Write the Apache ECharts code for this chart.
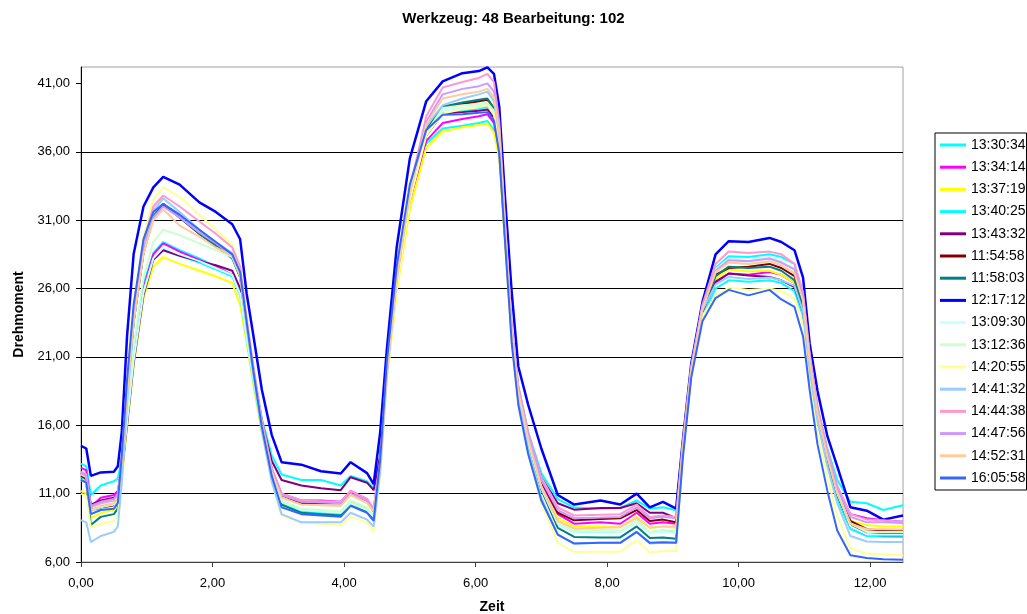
<!DOCTYPE html>
<html>
<head>
<meta charset="utf-8">
<script src="https://cdn.jsdelivr.net/npm/echarts@6/dist/echarts.min.js"></script>
<style>
html,body{margin:0;padding:0;background:#fff;}
#chart{width:1027px;height:614px;}
</style>
</head>
<body>
<div id="chart"></div>
<script>
// Zeit (x) sample positions
const zeit = [0.00,0.08,0.15,0.30,0.50,0.56,0.62,0.70,0.80,0.95,1.10,1.25,1.50,1.80,2.05,2.30,2.42,2.52,2.62,2.75,2.90,3.05,3.35,3.65,3.95,4.10,4.35,4.45,4.55,4.65,4.80,5.00,5.25,5.50,5.80,6.05,6.18,6.28,6.36,6.45,6.55,6.65,6.80,7.00,7.25,7.50,7.90,8.20,8.45,8.65,8.85,9.05,9.15,9.28,9.45,9.65,9.85,10.15,10.47,10.65,10.85,10.98,11.08,11.20,11.35,11.50,11.70,11.95,12.20,12.50];

const s_133034 = [13.2,13.0,10.9,11.6,11.9,12.1,13.5,17.0,21.5,26.3,28.6,29.4,28.8,28.2,27.6,27.0,25.8,22.8,19.8,16.5,13.8,12.4,12.0,12.0,11.6,12.3,11.9,11.4,13.8,20.0,26.5,32.5,36.6,37.7,37.9,38.1,38.25,37.6,35.8,29.5,22.8,18.8,15.5,12.5,10.6,9.98,9.9,9.95,10.5,9.9,10.0,9.78,14.6,20.0,24.5,27.5,28.36,28.3,28.5,28.3,27.8,25.5,21.0,17.2,14.3,12.0,10.4,10.3,9.8,10.15];
const s_133414 = [12.9,12.7,10.0,10.7,10.9,11.2,12.8,16.3,21.0,26.0,28.5,29.3,28.7,28.1,27.6,27.0,25.7,22.5,19.5,16.0,12.8,11.0,10.5,10.5,10.4,11.2,10.6,9.8,13.3,19.8,26.3,32.3,36.8,38.1,38.4,38.6,38.75,38.1,36.0,29.6,22.6,18.4,15.0,11.8,9.5,8.8,8.9,8.8,9.6,8.8,8.9,8.8,14.3,19.8,24.3,26.4,27.1,27.0,27.2,27.0,26.4,24.6,20.5,16.8,13.8,11.4,9.5,9.2,9.05,8.95];
const s_133719 = [11.2,11.0,9.2,9.6,9.8,10.1,12.0,15.8,20.3,25.3,27.6,28.3,27.8,27.3,26.9,26.4,24.8,22.0,19.0,15.5,12.2,10.3,9.8,9.7,9.6,10.4,9.9,9.3,12.8,19.3,25.8,31.8,36.3,37.5,37.8,37.95,38.07,37.4,35.5,29.2,22.2,18.0,14.6,11.4,9.2,8.6,8.6,8.55,9.3,8.5,8.6,8.5,14.2,19.8,24.3,26.7,27.4,27.25,27.3,27.0,26.4,24.5,20.4,16.7,13.6,11.1,9.0,8.7,8.6,8.6];
const s_134025 = [12.2,12.0,9.8,9.9,10.1,10.4,12.6,16.3,20.8,25.8,28.2,28.9,28.4,27.9,27.4,26.9,25.5,22.3,19.3,15.7,12.4,10.2,9.7,9.6,9.5,10.3,9.8,9.2,12.9,19.6,26.4,32.6,37.2,38.8,39.0,39.15,39.3,38.7,36.4,29.8,22.7,18.3,14.8,11.3,8.8,8.2,8.25,8.2,9.0,8.15,8.3,8.2,14.0,19.8,24.0,26.0,26.6,26.5,26.6,26.4,25.8,24.0,20.0,16.4,13.2,10.6,8.4,7.9,7.85,7.83];
const s_134332 = [12.5,12.3,10.2,10.5,10.7,11.0,12.5,16.0,20.5,25.5,28.1,28.8,28.4,28.0,27.7,27.3,26.0,22.8,19.8,16.3,13.4,12.0,11.6,11.4,11.25,12.2,11.8,11.25,13.8,20.0,26.6,32.8,37.2,38.8,38.9,39.0,39.1,38.5,36.3,29.7,22.8,18.6,15.3,12.2,10.3,9.83,9.95,9.95,10.3,9.6,9.6,9.2,14.3,19.9,24.3,26.5,27.1,26.95,26.85,26.6,26.1,24.3,20.4,16.8,13.6,11.0,8.6,8.0,7.95,7.95];
const s_115458 = [12.3,12.1,9.8,10.0,10.1,10.5,13.3,18.2,23.6,28.6,31.2,32.1,31.2,30.0,29.2,28.3,26.9,23.3,20.1,16.2,12.8,10.9,10.3,10.3,10.3,11.0,10.5,9.7,13.2,19.8,26.6,32.8,37.5,39.3,39.5,39.7,39.8,39.1,36.8,30.0,22.9,18.6,15.2,11.9,9.6,9.05,9.15,9.2,9.8,9.0,9.1,8.9,14.4,20.1,24.6,27.0,27.5,27.6,27.8,27.5,26.9,25.0,20.8,17.0,13.9,11.3,9.0,8.4,8.3,8.3];
const s_115803 = [12.0,11.8,8.7,9.3,9.5,9.9,13.0,18.0,23.5,28.6,31.3,32.2,31.2,30.0,29.1,28.2,26.8,23.1,19.8,15.9,12.4,10.2,9.6,9.5,9.4,10.2,9.7,9.2,12.9,19.7,26.5,32.8,37.6,39.3,39.6,39.8,39.9,39.2,36.9,30.0,22.7,18.3,14.8,11.3,8.5,7.83,7.8,7.8,8.6,7.75,7.8,7.7,13.9,19.7,24.4,26.9,27.6,27.5,27.6,27.3,26.6,24.7,20.5,16.7,13.5,10.9,8.7,8.2,8.1,8.1];
const s_121712 = [14.5,14.3,12.3,12.55,12.6,13.0,15.5,22.5,28.5,32.0,33.4,34.17,33.6,32.3,31.6,30.7,29.6,25.6,22.6,18.6,15.3,13.3,13.12,12.64,12.47,13.3,12.5,11.7,15.5,21.5,29.0,35.5,39.7,41.15,41.75,41.9,42.17,41.7,39.3,32.5,25.7,20.3,17.5,14.3,10.9,10.2,10.5,10.2,11.0,10.0,10.4,9.9,14.8,20.5,25.0,28.5,29.46,29.4,29.7,29.4,28.8,26.8,22.0,18.5,15.2,13.0,10.0,9.75,9.1,9.4];
const s_130930 = [12.0,11.8,9.5,9.8,10.0,10.3,12.5,16.2,20.7,25.7,28.2,29.0,28.5,28.0,27.5,27.0,25.6,22.4,19.4,15.8,12.5,10.4,9.8,9.7,9.6,10.3,9.8,9.3,12.9,19.6,26.4,32.6,37.3,39.0,39.2,39.35,39.5,38.9,36.6,29.9,22.7,18.3,14.8,11.4,8.8,8.2,8.25,8.2,8.9,8.1,8.2,8.1,14.1,20.0,24.6,27.4,28.2,28.1,28.3,28.0,27.4,25.4,21.0,17.1,13.9,11.1,8.6,8.0,8.0,8.0];
const s_131236 = [12.4,12.2,9.8,10.0,10.2,10.5,12.9,16.9,21.7,26.8,29.4,30.3,29.9,29.3,28.8,28.3,26.9,23.2,20.0,16.0,12.7,10.5,9.9,9.8,9.7,10.5,10.0,9.4,13.0,19.7,26.5,32.7,37.4,39.2,39.4,39.5,39.6,39.0,36.7,29.9,22.7,18.4,14.9,11.5,8.9,8.3,8.35,8.3,9.0,8.2,8.3,8.2,14.1,20.0,24.6,27.2,27.9,27.8,28.0,27.7,27.2,25.2,20.9,17.0,13.8,11.2,8.8,8.2,8.2,8.2];
const s_142055 = [11.0,10.8,8.5,8.8,9.0,9.4,13.0,18.6,24.5,29.8,32.5,33.4,32.7,31.4,30.3,29.2,27.6,23.6,20.0,15.8,11.8,9.4,8.9,8.8,8.7,9.3,8.9,8.2,12.2,19.0,26.0,32.4,37.2,38.8,39.1,39.25,39.4,38.7,36.4,29.6,22.1,17.6,13.9,10.3,7.4,6.73,6.75,6.75,7.6,6.7,6.8,6.8,13.6,19.6,24.0,25.5,26.07,25.9,26.0,25.8,25.3,23.3,19.2,15.4,12.2,9.4,7.0,6.6,6.55,6.49];
const s_144132 = [9.05,8.9,7.46,7.9,8.2,8.6,11.8,17.6,23.5,28.9,31.7,32.6,31.6,30.3,29.4,28.6,27.1,23.2,19.7,15.6,11.9,9.5,8.9,8.9,8.9,9.6,9.1,8.6,12.6,19.5,26.6,33.0,37.9,39.4,39.9,40.2,40.4,39.7,37.3,30.3,22.6,17.9,14.2,10.7,8.0,7.35,7.4,7.4,8.2,7.35,7.4,7.4,13.9,19.8,24.4,26.3,26.85,26.7,26.8,26.6,26.2,24.3,20.1,16.3,13.0,10.3,7.9,7.5,7.46,7.46];
const s_144438 = [12.6,12.4,10.0,10.3,10.5,10.9,13.8,18.9,24.4,29.4,32.0,32.8,32.0,30.9,30.0,29.0,27.6,23.8,20.4,16.4,12.9,11.0,10.5,10.45,10.4,11.2,10.6,9.9,13.4,20.0,26.9,33.3,38.6,40.7,41.1,41.4,41.7,41.1,38.2,30.8,23.3,18.9,15.5,12.2,10.0,9.4,9.45,9.5,10.2,9.3,9.4,9.3,14.6,20.3,24.8,27.8,28.7,28.6,28.7,28.5,27.8,25.7,21.3,17.4,14.2,11.6,9.5,9.1,9.05,8.93];
const s_144756 = [12.5,12.3,10.1,10.4,10.6,11.0,13.6,18.5,23.8,28.7,31.2,32.0,31.2,30.1,29.3,28.4,27.0,23.4,20.1,16.2,12.8,10.9,10.4,10.35,10.3,11.0,10.5,9.8,13.3,19.9,26.8,33.1,38.2,40.2,40.6,40.8,41.0,40.4,37.8,30.5,23.1,18.8,15.4,12.0,9.8,9.2,9.25,9.3,10.0,9.2,9.3,9.2,14.5,20.2,24.7,27.3,28.07,28.0,28.2,27.9,27.4,25.4,21.1,17.2,14.0,11.4,9.3,8.9,8.9,8.85];
const s_145231 = [12.0,11.8,9.7,10.1,10.3,10.7,13.4,18.3,23.6,28.5,31.0,31.8,30.6,29.8,29.0,28.4,26.9,23.3,20.0,16.1,12.6,10.7,10.2,10.15,10.1,10.9,10.3,9.7,13.2,19.8,26.7,33.0,38.0,39.9,40.2,40.4,40.6,40.0,37.5,30.3,22.9,18.5,15.0,11.5,9.0,8.44,8.5,8.55,9.2,8.5,8.6,8.6,14.2,20.0,24.5,27.2,27.9,27.8,28.0,27.7,27.1,25.1,20.8,16.9,13.7,11.0,8.8,8.4,8.4,8.37];
const s_160558 = [12.0,11.8,9.5,9.8,9.9,10.3,13.8,19.3,24.8,29.6,31.6,32.2,31.4,30.3,29.4,28.5,27.2,23.5,20.0,15.9,12.3,10.0,9.5,9.4,9.3,10.1,9.6,9.0,13.5,20.6,27.6,33.6,37.6,38.7,38.75,38.85,38.9,38.3,35.9,29.3,22.0,17.5,13.9,10.5,8.0,7.35,7.4,7.4,8.2,7.4,7.45,7.4,13.5,19.5,23.6,25.3,25.9,25.5,25.9,25.2,24.65,22.5,18.6,14.6,11.2,8.3,6.5,6.3,6.2,6.17];

const seriesNames = ['13:30:34','13:34:14','13:37:19','13:40:25','13:43:32','11:54:58','11:58:03','12:17:12','13:09:30','13:12:36','14:20:55','14:41:32','14:44:38','14:47:56','14:52:31','16:05:58'];
const seriesValues = [s_133034,s_133414,s_133719,s_134025,s_134332,s_115458,s_115803,s_121712,s_130930,s_131236,s_142055,s_144132,s_144438,s_144756,s_145231,s_160558];
const seriesColors = ['#00FFFF','#FF00FF','#FFFF00','#00FFFF','#800080','#800000','#008080','#0000FF','#CCFFFF','#CCFFCC','#FFFF99','#99CCFF','#FF99CC','#CC99FF','#FFCC99','#3366FF'];

const xTicks = [0,2,4,6,8,10,12];
const yTicks = [6,11,16,21,26,31,36,41];

const fmt = v => v.toFixed(2).replace('.', ',');
const FONT = 'Liberation Sans, Arial, sans-serif';

const chart = echarts.init(document.getElementById('chart'), null, {renderer: 'canvas'});

const series = seriesNames.map((name, i) => ({
  name: name,
  type: 'line',
  data: zeit.map((x, k) => [x, seriesValues[i][k]]),
  symbol: 'none',
  smooth: false,
  lineStyle: {color: seriesColors[i], width: name === '12:17:12' ? 2.5 : 2},
  itemStyle: {color: seriesColors[i]},
  emphasis: {disabled: true},
  z: 3
}));

chart.setOption({
  animation: false,
  backgroundColor: '#ffffff',
  title: {
    text: 'Werkzeug: 48 Bearbeitung: 102',
    left: 'center',
    top: 6,
    textStyle: {fontFamily: FONT, fontSize: 15, fontWeight: 'bold', color: '#000'}
  },
  grid: {
    left: 81, right: 124, top: 67, bottom: 52,
    outerBoundsMode: 'none',
    containLabel: false,
    show: true, borderColor: '#a0a0a0', borderWidth: 1, backgroundColor: 'transparent'
  },
  legend: {
    orient: 'vertical',
    left: 935,
    top: 133,
    padding: [4, 1, 4, 5],
    borderColor: '#000',
    borderWidth: 1,
    itemWidth: 26,
    itemHeight: 3,
    itemGap: 6.2,
    icon: 'rect',
    data: seriesNames,
    textStyle: {fontFamily: FONT, fontSize: 14, color: '#000', lineHeight: 16}
  },
  xAxis: {
    type: 'value',
    min: 0, max: 12.5, interval: 2,
    name: 'Zeit',
    nameLocation: 'middle',
    nameGap: 38,
    nameTextStyle: {fontFamily: FONT, fontSize: 14, fontWeight: 'bold', color: '#000'},
    axisLine: {show: true, onZero: false, lineStyle: {color: '#404040', width: 1}},
    axisTick: {show: true, length: 5, lineStyle: {color: '#404040'}, customValues: xTicks},
    axisLabel: {fontFamily: FONT, fontSize: 13, color: '#000', margin: 15, customValues: xTicks, formatter: v => fmt(v)},
    splitLine: {show: false}
  },
  yAxis: {
    type: 'value',
    min: 6, max: 42.2, interval: 5,
    name: 'Drehmoment',
    nameLocation: 'middle',
    nameRotate: 90,
    nameGap: 47,
    nameTextStyle: {fontFamily: FONT, fontSize: 14, fontWeight: 'bold', color: '#000'},
    axisLine: {show: true, lineStyle: {color: '#000', width: 1}},
    axisTick: {show: true, length: 5, lineStyle: {color: '#000'}, customValues: yTicks},
    axisLabel: {fontFamily: FONT, fontSize: 13, color: '#000', margin: 11, customValues: yTicks, formatter: v => fmt(v)},
    splitLine: {show: true, showMinLine: false, showMaxLine: false, lineStyle: {color: '#000', width: 1}}
  },
  series: series
});
</script>
</body>
</html>
